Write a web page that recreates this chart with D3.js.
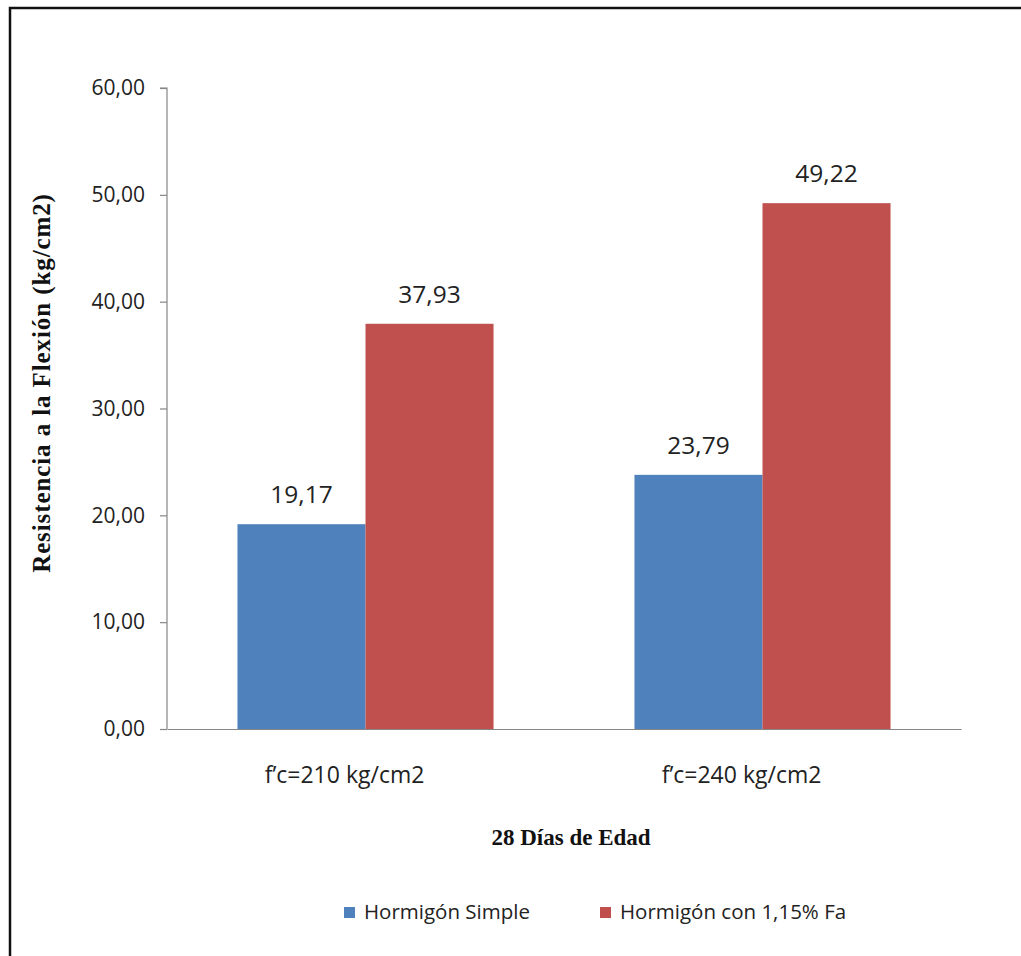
<!DOCTYPE html>
<html><head><meta charset="utf-8">
<script src="https://cdn.jsdelivr.net/npm/d3@7"></script>
<style>body{margin:0;background:#fff}</style>
</head><body>
<svg id="c" width="1021" height="956"></svg>
<script>
const categories = ["f’c=210 kg/cm2", "f’c=240 kg/cm2"];
const seriesNames = ["Hormigón Simple", "Hormigón con 1,15% Fa"];
const simple = [19.17, 23.79];
const conFa = [37.93, 49.22];
const yTicks = [0, 10, 20, 30, 40, 50, 60];
const colors = ["#4F81BD", "#C0504D"];
const fmt = v => v.toFixed(2).replace(".", ",");

const svg = d3.select("#c");
svg.append("rect").attr("x", 10).attr("y", 8).attr("width", 1100).attr("height", 1100)
  .attr("fill", "none").attr("stroke", "#111").attr("stroke-width", 2.5);

const pL = 167, pR = 961, pT = 88, pB = 729;
const y = d3.scaleLinear().domain([0, 60]).range([pB, pT]);
const x0 = d3.scaleBand().domain(categories).range([pL, pR]).paddingInner(0.355).paddingOuter(0.1775);
const x1 = d3.scaleBand().domain(seriesNames).range([0, x0.bandwidth()]);

const data = categories.map((c, i) => ({c, vals: [simple[i], conFa[i]]}));

const g = svg.append("g");
const groups = g.selectAll("g.grp").data(data).join("g").attr("transform", d => `translate(${x0(d.c)},0)`);
groups.selectAll("rect").data(d => d.vals.map((v, j) => ({v, s: seriesNames[j], j})))
  .join("rect")
  .attr("x", d => x1(d.s)).attr("width", x1.bandwidth())
  .attr("y", d => y(d.v)).attr("height", d => y(0) - y(d.v))
  .attr("fill", d => colors[d.j]);
groups.selectAll("text").data(d => d.vals.map((v, j) => ({v, s: seriesNames[j], j})))
  .join("text")
  .attr("x", d => x1(d.s) + x1.bandwidth() / 2).attr("y", d => y(d.v) - 21)
  .attr("text-anchor", "middle").attr("font-family", "Open Sans").attr("font-size", 24.5).attr("fill", "#222")
  .text(d => fmt(d.v));

// y axis
const yAxis = svg.append("g").attr("transform", `translate(${pL},0)`)
  .call(d3.axisLeft(y).tickValues(yTicks).tickSize(7).tickPadding(15).tickFormat(fmt));
yAxis.select(".domain").attr("stroke", "#868686").attr("stroke-width", 1.2).attr("d", `M-7,${pT}H0V${pB}`);
yAxis.selectAll(".tick line").attr("stroke", "#868686").attr("stroke-width", 1.2);
yAxis.selectAll(".tick text").attr("font-family", "Open Sans").attr("font-size", 21).attr("fill", "#222");

// x axis
const xAxis = svg.append("g").attr("transform", `translate(0,${pB})`)
  .call(d3.axisBottom(x0).tickSize(0).tickPadding(38));
xAxis.select(".domain").attr("stroke", "#868686").attr("stroke-width", 1.2);
xAxis.selectAll(".tick text").attr("font-family", "Open Sans").attr("font-size", 23).attr("fill", "#222").attr("dx", -21);

// axis titles
svg.append("text").attr("x", 571).attr("y", 845).attr("text-anchor", "middle")
  .attr("font-family", "Liberation Serif").attr("font-weight", "bold").attr("font-size", 23).attr("fill", "#111")
  .text("28 Días de Edad");
svg.append("text").attr("transform", "translate(50,383) rotate(-90)").attr("text-anchor", "middle")
  .attr("font-family", "Liberation Serif").attr("font-weight", "bold").attr("font-size", 25).attr("letter-spacing", 0.9).attr("fill", "#111")
  .text("Resistencia a la Flexión (kg/cm2)");

// legend
const legX = [344, 600];
const leg = svg.selectAll("g.leg").data(seriesNames).join("g").attr("transform", (d, i) => `translate(${legX[i]},907)`);
leg.append("rect").attr("width", 11).attr("height", 11).attr("fill", (d, i) => colors[i]);
leg.append("text").attr("x", 20).attr("y", 12).attr("font-family", "Open Sans").attr("font-size", 20.5).attr("fill", "#222").text(d => d);
</script>
</body></html>
